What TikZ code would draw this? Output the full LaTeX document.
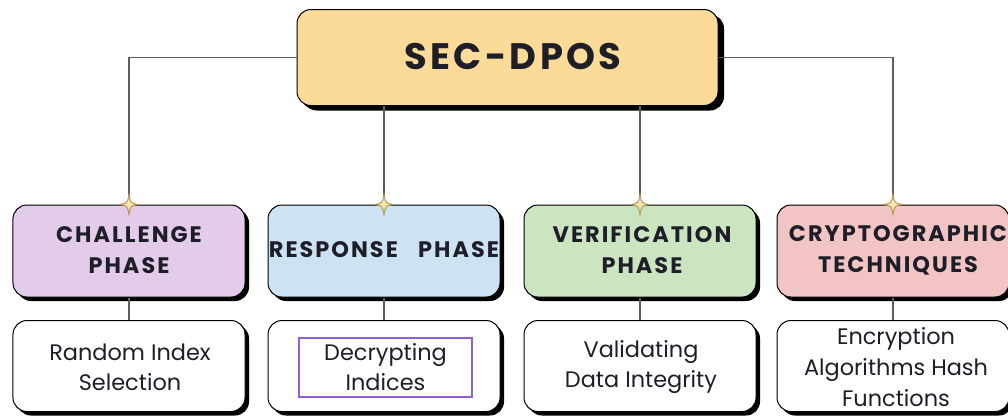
\documentclass[tikz,border=0pt]{standalone}
\usepackage{fontspec}
\setmainfont{Poppins}
\newfontfamily\capsfont{Poppins}[LetterSpace=9]
\newfontfamily\bigcapsfont{Poppins}[LetterSpace=9]
\usetikzlibrary{shadows}
\definecolor{cyellow}{HTML}{FCDB98}
\definecolor{cpurple}{HTML}{E3CCEA}
\definecolor{cblue}{HTML}{CDE3F3}
\definecolor{cgreen}{HTML}{CBE5C0}
\definecolor{cpink}{HTML}{F2C5C4}
\definecolor{cline}{HTML}{5E5E5E}
\definecolor{starfill}{HTML}{F7E6AE}
\definecolor{starline}{HTML}{B8985E}
\definecolor{cframe}{HTML}{8E60D2}
\definecolor{ctext}{HTML}{1E1E28}
\begin{document}
\begin{tikzpicture}[x=1bp,y=-1bp,
  box/.style={draw=black, line width=1bp, rounded corners=14bp, inner sep=0pt,
    drop shadow={shadow xshift=4bp,shadow yshift=-4bp,opacity=1,fill=black}},
  phasebox/.style={box, minimum width=232bp, minimum height=92bp},
  leafbox/.style={box, fill=white, minimum width=232bp, minimum height=91bp},
  phasetext/.style={font=\capsfont\bfseries\fontsize{22.5}{31}\selectfont, text=ctext, align=center},
  leaftext/.style={font=\fontsize{22.5}{30}\selectfont, text=ctext, align=center},
  conn/.style={draw=cline, line width=1.2bp},
  sparkle/.pic={\path[fill=starfill, draw=starline, line width=1bp]
     (0,-10) .. controls (1.5,-1.5) .. (9,0) .. controls (1.5,1.5) .. (0,10)
     .. controls (-1.5,1.5) .. (-9,0) .. controls (-1.5,-1.5) .. cycle;}
]
\useasboundingbox (0,0) rectangle (1008,415);
% top box
\node[box, fill=cyellow, minimum width=421bp, minimum height=96bp,
  drop shadow={shadow xshift=6bp,shadow yshift=-5bp,opacity=1,fill=black}] (top) at (507.5,57.5) {};
\node[font=\bigcapsfont\bfseries\fontsize{37}{37}\selectfont, text=ctext] (toptext) at (513,57) {SEC-DPOS};
% phase boxes
\node[phasebox, fill=cpurple] (p1) at (129,251) {};
\node[phasebox, fill=cblue]   (p2) at (384,251) {};
\node[phasebox, fill=cgreen]  (p3) at (640,251) {};
\node[phasebox, fill=cpink]   (p4) at (893,251) {};
\node[phasetext] (t1) at (129,250) {CHALLENGE\\PHASE};
\begin{scope}
  \clip (262,200) rectangle (498,300);
  \node[phasetext] (t2) at (384,250) {RESPONSE\ \ \ PHASE};
\end{scope}
\node[phasetext] (t3) at (642,250) {VERIFICATION\\PHASE};
\node[phasetext] (t4) at (898,250) {CRYPTOGRAPHIC\\TECHNIQUES};
% leaf boxes
\node[leafbox] (l1) at (129,366) {};
\node[leafbox] (l2) at (384,366) {};
\node[leafbox] (l3) at (640,366) {};
\node[leafbox] (l4) at (893,366) {};
\node[leaftext] (s1) at (130,367) {Random Index\\Selection};
\node[draw=cframe, line width=1.5bp, minimum width=173bp, minimum height=59bp, inner sep=0pt] (frame) at (385.5,367.5) {};
\node[leaftext] (s2) at (385.5,367) {Decrypting\\Indices};
\node[leaftext] (s3) at (641,367) {Validating\\Data Integrity};
\node[leaftext, font=\fontsize{22.5}{31}\selectfont] (s4) at (896,367) {Encryption\\Algorithms Hash\\Functions};
% connectors
\draw[conn] (top.west) -| (p1.north);
\draw[conn] (top.east) -| (p4.north);
\draw[conn] (top.south -| p2.north) -- (p2.north);
\draw[conn] (top.south -| p3.north) -- (p3.north);
\foreach \i in {1,2,3,4}{
  \draw[conn] (p\i.south) -- (l\i.north);
  \pic at (p\i.north) {sparkle};
}
\end{tikzpicture}
\end{document}
